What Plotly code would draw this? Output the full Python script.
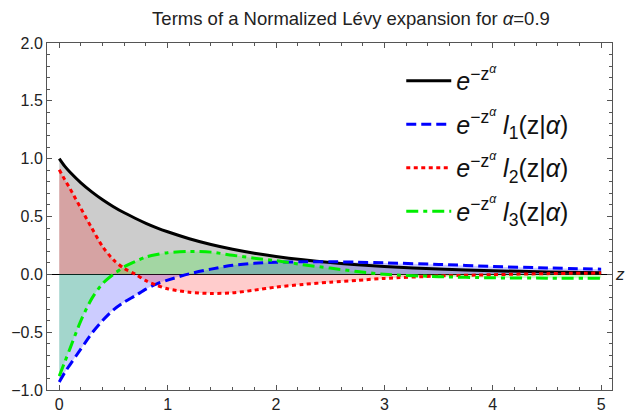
import plotly.graph_objects as go

# ---- data ----
z = [0, 0.05, 0.1, 0.2, 0.3, 0.4, 0.5, 0.6, 0.7, 0.8, 0.9, 1.0, 1.2, 1.4, 1.6,
     1.8, 2.0, 2.25, 2.5, 2.75, 3.0, 3.5, 4.0, 4.5, 5.0]

term0 = [1.0, 0.935, 0.882, 0.791, 0.713, 0.645, 0.585, 0.532, 0.485, 0.441, 0.402,
         0.368, 0.308, 0.258, 0.217, 0.183, 0.155, 0.126, 0.102, 0.083, 0.068,
         0.046, 0.031, 0.021, 0.014]
term1 = [-0.93, -0.85, -0.78, -0.645, -0.51, -0.40, -0.307, -0.24, -0.186, -0.128,
         -0.082, -0.05, 0.004, 0.045, 0.078, 0.095, 0.104, 0.109, 0.109, 0.105,
         0.099, 0.086, 0.068, 0.055, 0.045]
term2 = [0.905, 0.82, 0.74, 0.57, 0.40, 0.24, 0.125, 0.05, 0.002, -0.055, -0.095,
         -0.125, -0.155, -0.165, -0.16, -0.137, -0.11, -0.087, -0.068, -0.052,
         -0.035, -0.015, -0.003, 0.006, 0.011]
term3 = [-0.88, -0.76, -0.64, -0.40, -0.21, -0.08, 0.0, 0.065, 0.11, 0.15, 0.172,
         0.187, 0.198, 0.192, 0.165, 0.14, 0.118, 0.083, 0.054, 0.024, 0.0,
         -0.02, -0.03, -0.033, -0.033]

names = [
    "<i>e</i><sup>−z<sup><i>α</i></sup></sup>",
    "<i>e</i><sup>−z<sup><i>α</i></sup></sup> <i>l</i><sub>1</sub>(z|<i>α</i>)",
    "<i>e</i><sup>−z<sup><i>α</i></sup></sup> <i>l</i><sub>2</sub>(z|<i>α</i>)",
    "<i>e</i><sup>−z<sup><i>α</i></sup></sup> <i>l</i><sub>3</sub>(z|<i>α</i>)",
]
series = [term0, term1, term2, term3]
colors = ["#000000", "#0000ff", "#ff0000", "#00ee00"]
fills = ["rgba(0,0,0,0.2)", "rgba(0,0,255,0.2)", "rgba(255,0,0,0.2)", "rgba(0,255,0,0.2)"]
dashes = ["solid", "10px,5px", "4px,3.5px", "12px,5px,4px,5px"]

fig = go.Figure()

# fills first
for ys, fc in zip(series, fills):
    fig.add_trace(go.Scatter(x=z, y=ys, mode="lines", fill="tozeroy", fillcolor=fc,
                             line=dict(width=0, shape="spline", smoothing=0.8),
                             showlegend=False, hoverinfo="skip"))

# lines on top
for i, (ys, c, d, nm) in enumerate(zip(series, colors, dashes, names)):
    fig.add_trace(go.Scatter(x=z, y=ys, mode="lines", name=nm,
                             line=dict(color=c, width=3, dash=d, shape="spline", smoothing=0.8),
                             legendgroup=f"g{i}"))

frame = "#555555"
fam = "Liberation Sans, Arial, sans-serif"
tickfont = dict(family=fam, size=16, color="#222222")

fig.update_layout(
    width=625, height=417,
    margin=dict(l=47, r=13, t=43, b=27),
    paper_bgcolor="white", plot_bgcolor="white",
    title=dict(text="Terms of a Normalized Lévy expansion for <i>α</i>=0.9",
               x=0.538, xref="paper", xanchor="center", y=0.955, yanchor="middle",
               font=dict(family=fam, size=18.5, color="#222222")),
    showlegend=True,
    legend=dict(x=0.627, y=0.957, xanchor="left", yanchor="top",
                bgcolor="rgba(0,0,0,0)", borderwidth=0,
                font=dict(family=fam, size=25, color="#111111"),
                traceorder="grouped", tracegroupgap=8, itemwidth=45),
    xaxis=dict(range=[-0.113, 5.1], showgrid=False, zeroline=False, automargin=False,
               showline=True, linecolor=frame, linewidth=1, mirror="allticks",
               ticks="inside", ticklen=5, tickcolor=frame, dtick=1, tick0=0,
               tickfont=tickfont,
               minor=dict(ticks="inside", ticklen=3, dtick=0.2, tickcolor=frame)),
    yaxis=dict(range=[-1, 2], showgrid=False, zeroline=True, zerolinecolor="black",
               zerolinewidth=1, automargin=False,
               showline=True, linecolor=frame, linewidth=1, mirror="allticks",
               ticks="inside", ticklen=5, tickcolor=frame, dtick=0.5, tick0=0,
               tickformat=".1f", tickfont=tickfont,
               minor=dict(ticks="inside", ticklen=3, dtick=0.1, tickcolor=frame)),
)

fig.add_annotation(text="<i>z</i>", xref="paper", x=1, yref="y", y=0,
                   xanchor="left", yanchor="middle", xshift=1, showarrow=False,
                   font=dict(family=fam, size=17, color="#222222"))

fig.write_html("out.html")
